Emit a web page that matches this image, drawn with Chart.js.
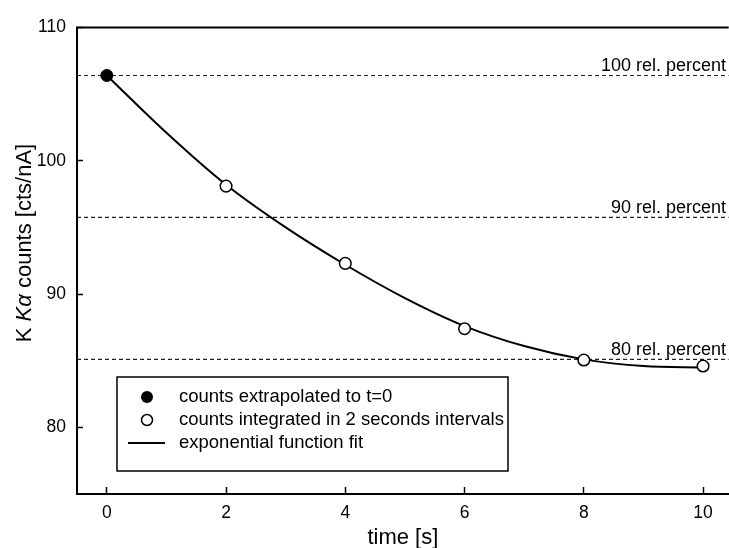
<!DOCTYPE html>
<html>
<head>
<meta charset="utf-8">
<script src="https://cdn.jsdelivr.net/npm/chart.js@4.4.0/dist/chart.umd.min.js"></script>
<style>
html, body { margin: 0; padding: 0; background: #fff; overflow: hidden; }
</style>
</head>
<body>
<canvas id="kaChart" width="736" height="548"></canvas>
<script>
// tick values
const xTicks = [0, 2, 4, 6, 8, 10];
const yTicks = [80, 90, 100, 110];

// measured counts
const extrapT = [0];
const extrapCounts = [106.4];
const intervalT = [2, 4, 6, 8, 10];
const intervalCounts = [98.1, 92.3, 87.4, 85.05, 84.6];

// fitted curve
const fitT = [0, 1, 2, 3, 4, 5, 6, 7, 8, 9, 10];
const fitCounts = [106.4, 102.1, 98.2, 95.0, 92.2, 89.7, 87.6, 86.1, 85.1, 84.6, 84.5];

// relative percent levels
const refNames = ['100 rel. percent', '90 rel. percent', '80 rel. percent'];
const refLevels = [106.4, 95.75, 85.1];

const legendNames = ['counts extrapolated to t=0', 'counts integrated in 2 seconds intervals', 'exponential function fit'];

const xMin = -0.5, xMax = 10.43;
const yMin = 75, yMax = 110;
const FONT = "'Liberation Sans', Arial, sans-serif";

const toPts = (xs, ys) => xs.map((x, i) => ({x: x, y: ys[i]}));

const refSets = refLevels.map((lv, i) => ({
    label: refNames[i],
    data: [{x: xMin, y: lv}, {x: xMax, y: lv}],
    borderColor: '#222',
    borderWidth: 1.2,
    borderDash: [4, 3],
    pointRadius: 0,
    showLine: true,
}));

const decorPlugin = {
    id: 'decor',
    afterDraw(chart) {
        const c = chart.ctx;
        const a = chart.chartArea;
        const ys = chart.scales.y;
        c.save();

        // top frame line
        c.strokeStyle = '#000';
        c.lineWidth = 2;
        c.beginPath();
        c.moveTo(a.left - 1, a.top);
        c.lineTo(a.right, a.top);
        c.stroke();

        // labels of percent lines
        c.fillStyle = '#000';
        c.font = '18px ' + FONT;
        c.textAlign = 'right';
        c.textBaseline = 'alphabetic';
        refLevels.forEach((lv, i) => {
            c.fillText(refNames[i], 726, ys.getPixelForValue(lv) - 4);
        });

        // y title with italic K alpha
        const parts = [
            ['K ', '22px ' + FONT],
            ['K', 'italic 22px ' + FONT],
            ['\u03B1', 'italic 22px ' + FONT],
            [' counts [cts/nA]', '22px ' + FONT],
        ];
        let total = 0;
        parts.forEach(p => { c.font = p[1]; total += c.measureText(p[0]).width; });
        c.translate(25, 243);
        c.rotate(-Math.PI / 2);
        c.textAlign = 'left';
        c.textBaseline = 'middle';
        let px = -total / 2;
        parts.forEach(p => {
            c.font = p[1];
            c.fillText(p[0], px, 0);
            px += c.measureText(p[0]).width;
        });
        c.setTransform(1, 0, 0, 1, 0, 0);

        // legend box
        const bx = a.left + 40, by = a.bottom - 117, bw = 391, bh = 94;
        c.strokeStyle = '#000';
        c.lineWidth = 1.5;
        c.strokeRect(bx, by, bw, bh);
        const rows = [by + 20, by + 43, by + 66];
        const sx = bx + 30;
        c.beginPath();
        c.arc(sx, rows[0], 6, 0, Math.PI * 2);
        c.fillStyle = '#000';
        c.fill();
        c.beginPath();
        c.arc(sx, rows[1], 5.5, 0, Math.PI * 2);
        c.fillStyle = '#fff';
        c.fill();
        c.lineWidth = 1.5;
        c.stroke();
        c.lineWidth = 2;
        c.beginPath();
        c.moveTo(bx + 11, rows[2]);
        c.lineTo(bx + 48, rows[2]);
        c.stroke();
        c.fillStyle = '#000';
        c.font = '18.5px ' + FONT;
        c.textAlign = 'left';
        c.textBaseline = 'middle';
        legendNames.forEach((t, i) => c.fillText(t, bx + 62, rows[i]));
        c.restore();
    }
};

new Chart(document.getElementById('kaChart'), {
    type: 'scatter',
    data: {
        datasets: [
            {
                label: legendNames[0],
                data: toPts(extrapT, extrapCounts),
                pointRadius: 6,
                pointBackgroundColor: '#000',
                pointBorderColor: '#000',
                pointBorderWidth: 1,
            },
            {
                label: legendNames[1],
                data: toPts(intervalT, intervalCounts),
                pointRadius: 5.8,
                pointBackgroundColor: '#fff',
                pointBorderColor: '#000',
                pointBorderWidth: 1.5,
            },
            {
                label: legendNames[2],
                data: toPts(fitT, fitCounts),
                showLine: true,
                borderColor: '#000',
                borderWidth: 2,
                cubicInterpolationMode: 'monotone',
                pointRadius: 0,
            },
            ...refSets
        ]
    },
    options: {
        responsive: false,
        animation: false,
        layout: { padding: { top: 24, left: 0, right: 0, bottom: 0 } },
        plugins: {
            legend: { display: false },
            tooltip: { enabled: false },
        },
        scales: {
            x: {
                type: 'linear',
                min: xMin,
                max: xMax,
                afterBuildTicks: s => { s.ticks = xTicks.map(v => ({value: v})); },
                afterFit: s => { s.height = 54; },
                grid: { drawOnChartArea: false, drawTicks: true, tickLength: -7, tickColor: '#000', tickWidth: 1.5 },
                border: { display: true, color: '#000', width: 2 },
                ticks: { color: '#000', font: { family: FONT, size: 17.5 }, padding: 16, maxRotation: 0 },
                title: { display: true, text: 'time [s]', color: '#000', font: { family: FONT, size: 22 }, padding: { top: 0, bottom: -3 } },
            },
            y: {
                min: yMin,
                max: yMax,
                afterBuildTicks: s => { s.ticks = yTicks.map(v => ({value: v})); },
                afterFit: s => { s.width = 77; },
                grid: { drawOnChartArea: false, drawTicks: true, tickLength: -6, tickColor: '#000', tickWidth: 1.5 },
                border: { display: true, color: '#000', width: 2 },
                ticks: { color: '#000', font: { family: FONT, size: 17.5 }, padding: 17 },
            }
        }
    },
    plugins: [decorPlugin]
});
</script>
</body>
</html>
